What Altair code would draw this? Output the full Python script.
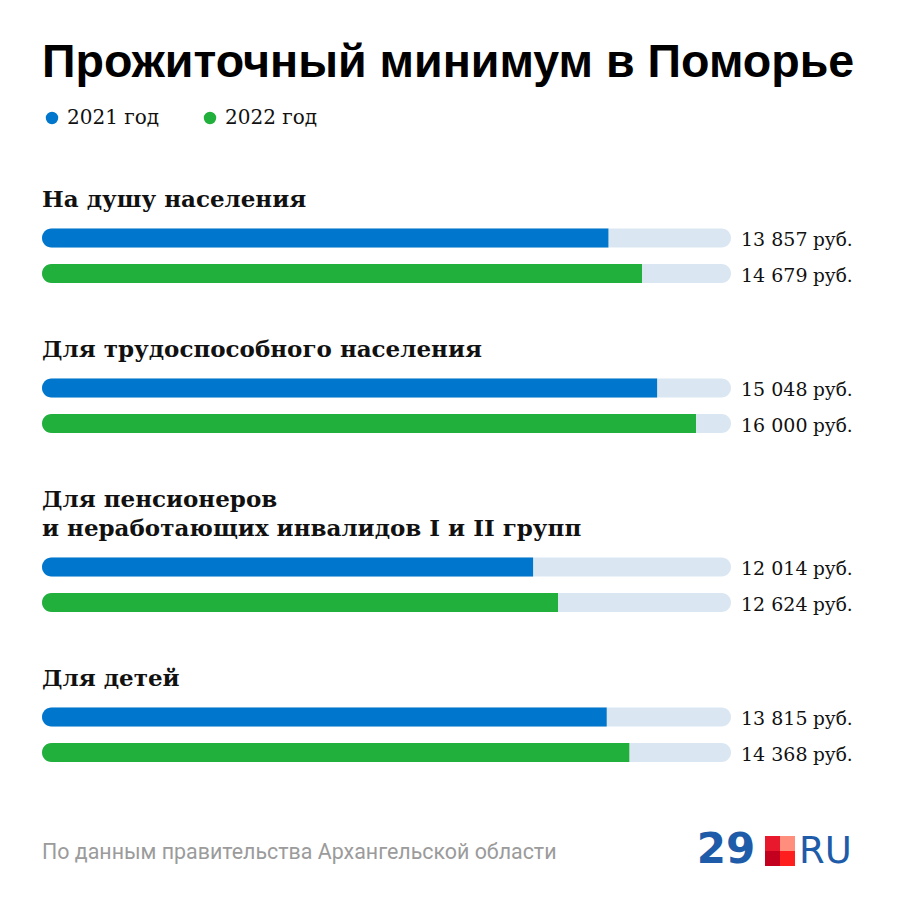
import altair as alt
import pandas as pd

# ---------------- data ----------------
TITLE = "Прожиточный минимум в Поморье"
GROUPS = [
    ["На душу населения"],
    ["Для трудоспособного населения"],
    ["Для пенсионеров", "и неработающих инвалидов I и II групп"],
    ["Для детей"],
]
YEARS = ["2021 год", "2022 год"]
V2021 = [13857, 15048, 12014, 13815]
V2022 = [14679, 16000, 12624, 14368]
UNIT = "руб."
SOURCE = "По данным правительства Архангельской области"

# ---------------- style / layout ----------------
COLORS = ["#0077CC", "#21B03C"]
TRACK = "#DAE7F3"
X_MAX = 16856
W = H = 884
TITLE_TOP = 199
LINE_H = 29
TITLE_TO_BAR = 31
BAR_STEP = 35.5
GROUP_GAP = 83.5
BAR_H = 19


def fmt(v):
    return f"{v:,}".replace(",", " ")


titles, bars = [], []
cursor = TITLE_TOP
for gi, lines in enumerate(GROUPS):
    for li, line in enumerate(lines):
        titles.append({"text": line, "y": cursor})
        if li < len(lines) - 1:
            cursor += LINE_H
    c = cursor + TITLE_TO_BAR
    for year, vals in zip(YEARS, [V2021, V2022]):
        v = vals[gi]
        bars.append({"group": gi, "year": year, "value": v, "zero": 0, "max": X_MAX,
                     "yc": c, "y0": c - BAR_H / 2, "y1": c + BAR_H / 2,
                     "num": fmt(v), "unit": UNIT})
        c += BAR_STEP
    cursor = c - BAR_STEP + GROUP_GAP

titles_df = pd.DataFrame(titles)
bars_df = pd.DataFrame(bars)
one = pd.DataFrame({"a": [0]})

xs = alt.Scale(domain=[0, X_MAX], range=[34, 723], nice=False, zero=False)
ys = alt.Scale(domain=[0, H], range=[0, H], nice=False, zero=False)

base = alt.Chart(bars_df)

track = base.mark_rect(cornerRadius=BAR_H / 2, color=TRACK).encode(
    x=alt.X("zero:Q", scale=xs, axis=None),
    x2="max:Q",
    y=alt.Y("y0:Q", scale=ys, axis=None),
    y2="y1:Q",
)

bar = base.mark_rect(cornerRadiusTopLeft=BAR_H / 2, cornerRadiusBottomLeft=BAR_H / 2).encode(
    x=alt.X("zero:Q", scale=xs, axis=None),
    x2="value:Q",
    y=alt.Y("y0:Q", scale=ys, axis=None),
    y2="y1:Q",
    color=alt.Color(
        "year:N",
        scale=alt.Scale(domain=YEARS, range=COLORS),
        legend=alt.Legend(
            orient="none", legendX=34, legendY=100, direction="horizontal",
            title=None, symbolType="circle", symbolSize=154, symbolStrokeWidth=0,
            labelFont="DejaVu Serif", labelFontSize=20, labelColor="#111111",
            labelOffset=5, columnPadding=40, padding=0,
        ),
    ),
)

nums = base.mark_text(align="left", baseline="alphabetic", font="DejaVu Serif",
                      fontSize=19, dy=8, color="#111111").encode(
    x=alt.value(733),
    y=alt.Y("yc:Q", scale=ys, axis=None),
    text="num:N",
)

units = base.mark_text(align="left", baseline="alphabetic", font="DejaVu Serif",
                       fontSize=18.5, dy=8, color="#111111").encode(
    x=alt.value(805),
    y=alt.Y("yc:Q", scale=ys, axis=None),
    text="unit:N",
)

group_titles = alt.Chart(titles_df).mark_text(
    align="left", baseline="alphabetic", font="DejaVu Serif", fontWeight="bold",
    fontSize=23, color="#111111").encode(
    x=alt.value(34),
    y=alt.Y("y:Q", scale=ys, axis=None),
    text="text:N",
)

main_title = alt.Chart(one).mark_text(
    align="left", baseline="alphabetic", font="Liberation Sans", fontWeight="bold",
    fontSize=46.6, color="#000000").encode(
    x=alt.value(34), y=alt.value(69), text=alt.value(TITLE))

source = alt.Chart(one).mark_text(
    align="left", baseline="alphabetic", font="Roboto", fontSize=21.4,
    color="#9B9B9B").encode(
    x=alt.value(34), y=alt.value(851), text=alt.value(SOURCE))

logo_29 = alt.Chart(one).mark_text(
    align="center", baseline="alphabetic", font="DejaVu Sans", fontWeight="bold",
    fontSize=42, color="#1E5BA8").encode(
    x=alt.value(718), y=alt.value(855), text=alt.value("29"))

logo_ru = alt.Chart(one).mark_text(
    align="left", baseline="alphabetic", font="DejaVu Sans", fontSize=37,
    color="#1E5BA8").encode(
    x=alt.value(791), y=alt.value(855), text=alt.value("RU"))

sq = []
for (x0, y0, col) in [(757, 828, "#E8192C"), (772, 828, "#FF8E7C"),
                      (757, 843, "#C4001F"), (772, 843, "#FF1E1E")]:
    sq.append(alt.Chart(one).mark_rect(color=col).encode(
        x=alt.value(x0), x2=alt.value(x0 + 15), y=alt.value(y0), y2=alt.value(y0 + 15)))

chart = alt.layer(track, bar, nums, units, group_titles, main_title, source,
                  logo_29, logo_ru, *sq).properties(
    width=W, height=H, padding=0, autosize=alt.AutoSizeParams(type="none"),
    background="#FFFFFF",
).configure_view(strokeWidth=0)

chart.save("out.html", embed_options={"renderer": "svg", "actions": False})
